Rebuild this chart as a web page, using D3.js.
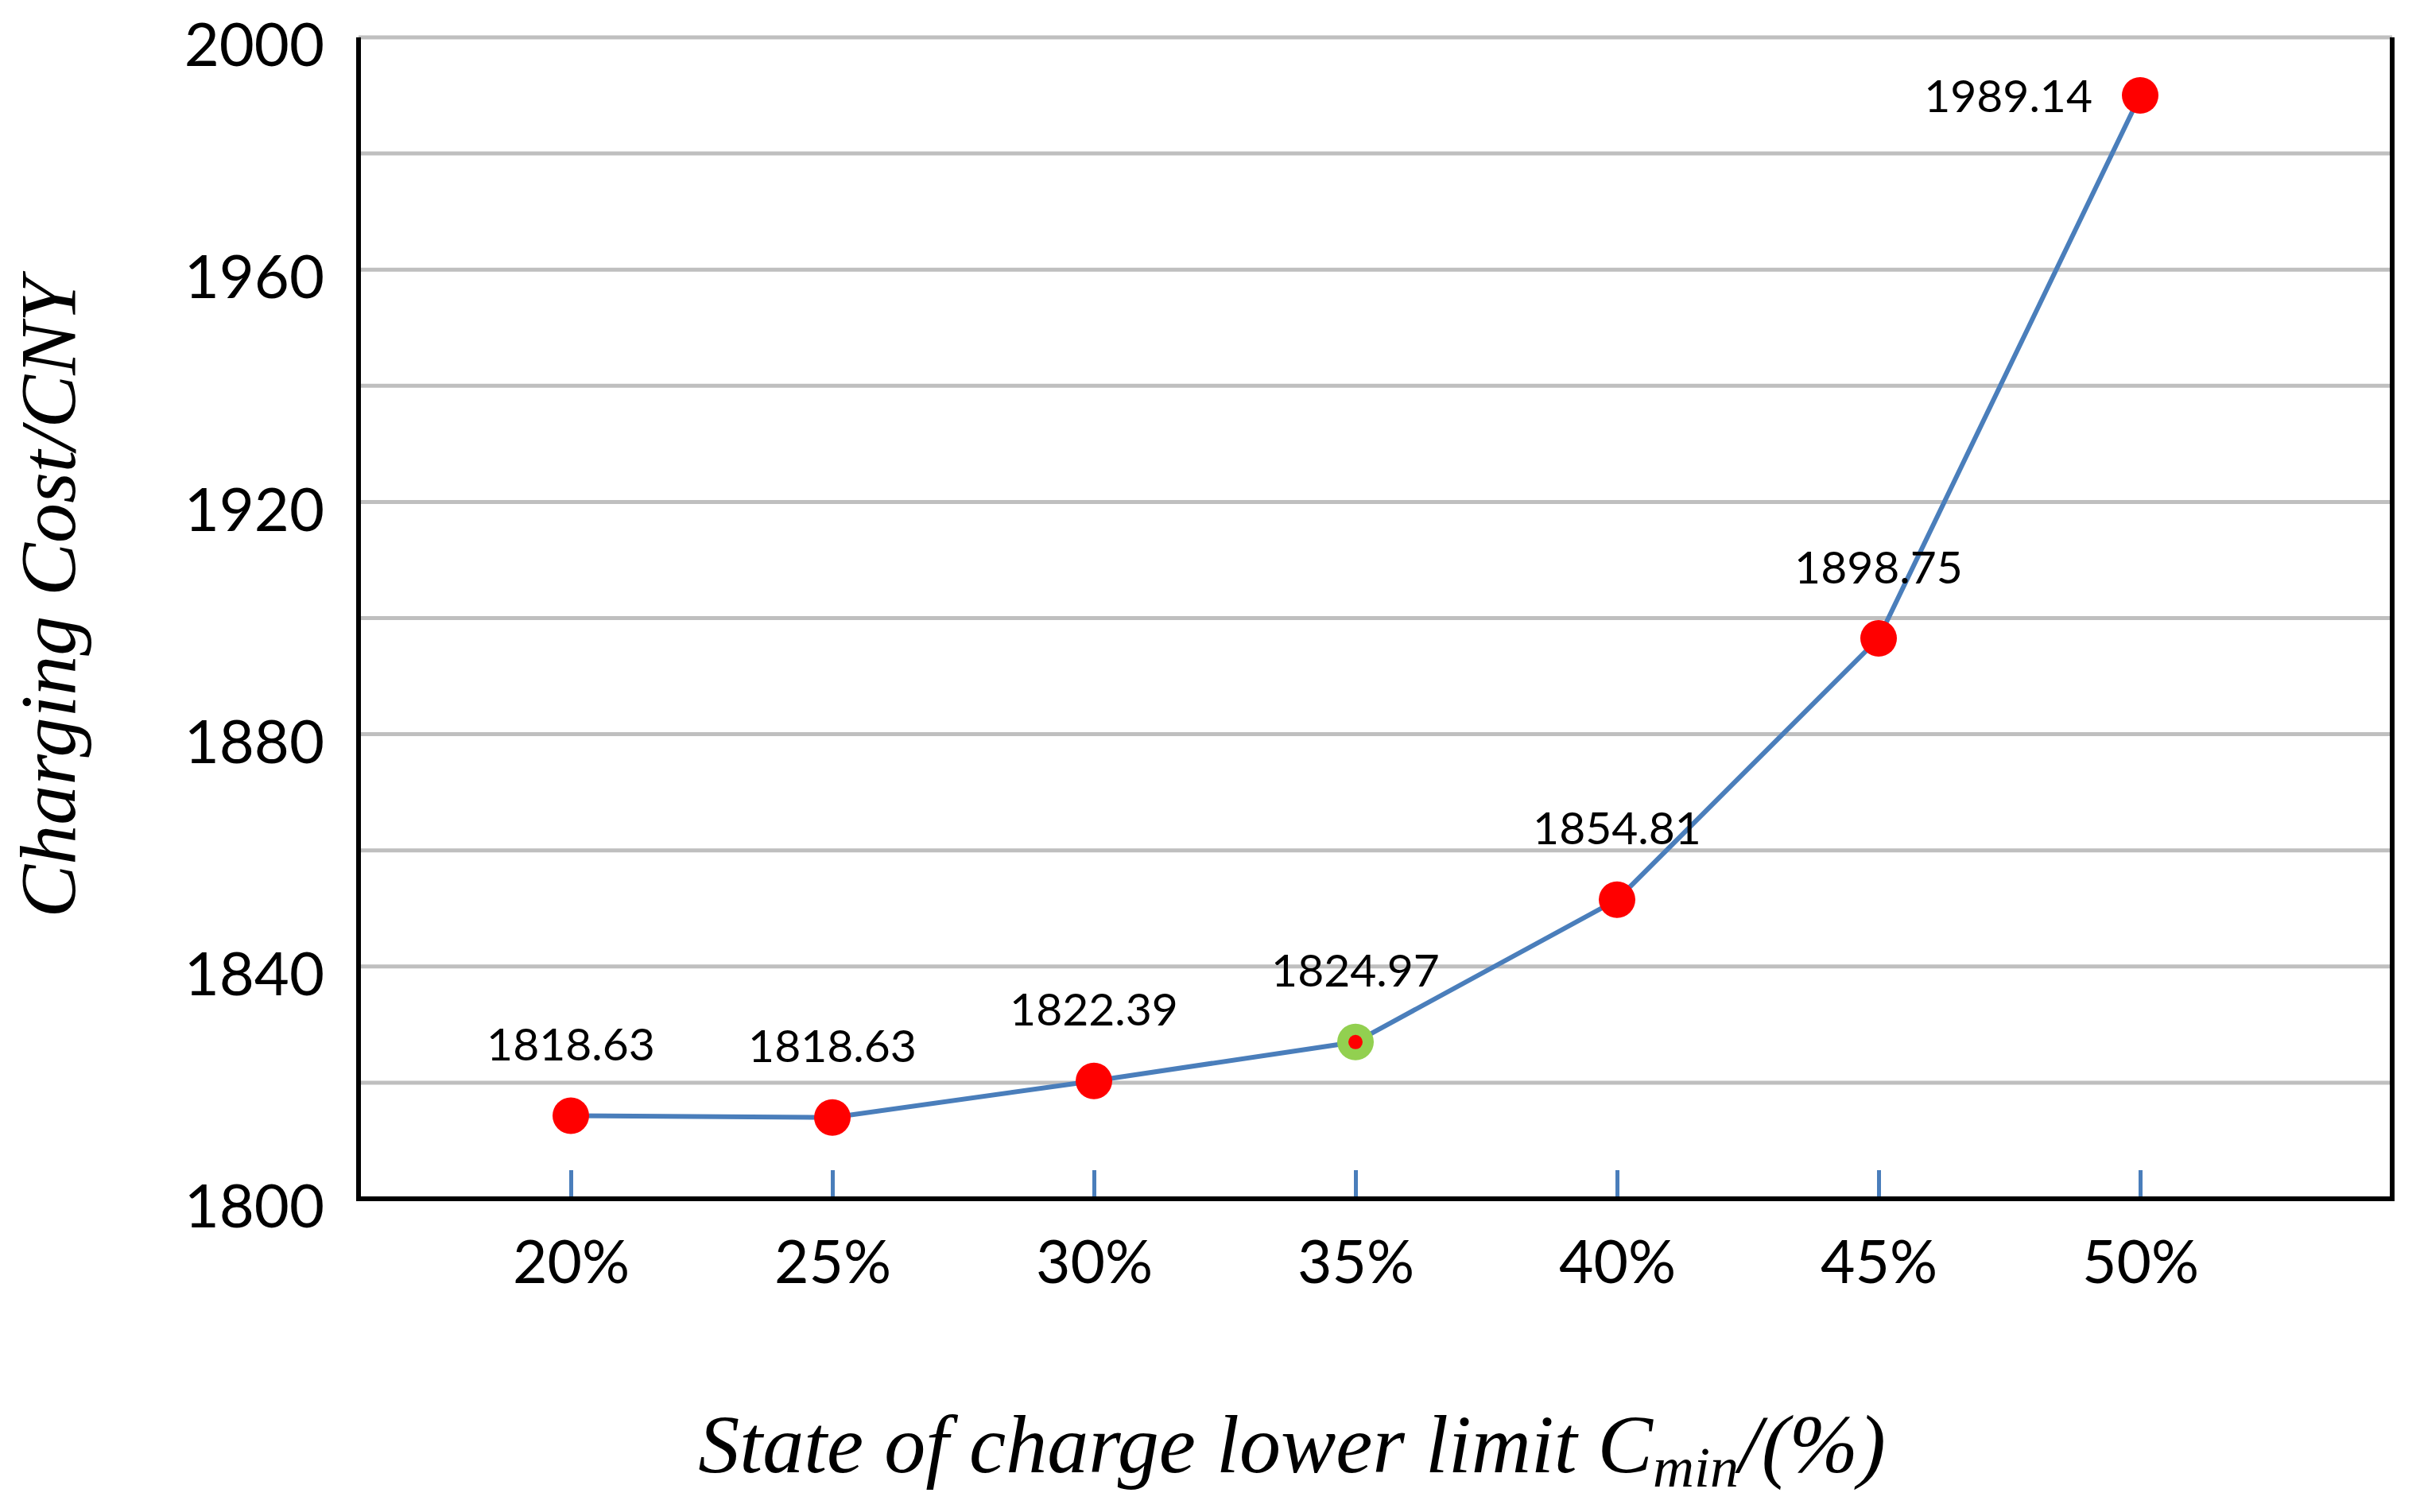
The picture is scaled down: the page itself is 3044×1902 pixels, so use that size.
<!DOCTYPE html>
<html>
<head>
<meta charset="utf-8">
<script src="https://cdn.jsdelivr.net/npm/d3@7"></script>
<style>
body { margin: 0; background: #fff; }
</style>
</head>
<body>
<svg id="chart" width="3044" height="1902"></svg>
<script>
var categories = ["20%", "25%", "30%", "35%", "40%", "45%", "50%"];
// point heights as drawn in the figure, and the texts printed next to them
var costs = [1814.3, 1814.0, 1820.3, 1827.0, 1851.5, 1896.5, 1990.0];
var costLabels = ["1818.63", "1818.63", "1822.39", "1824.97", "1854.81", "1898.75", "1989.14"];
var yTicks = [1800, 1840, 1880, 1920, 1960, 2000];
var yGrid = [1820, 1840, 1860, 1880, 1900, 1920, 1940, 1960, 1980, 2000];
var bestIndex = 3;

function drawChart() {
    var svg = d3.select("#chart");
    var plot = {left: 451, right: 3009, top: 47, bottom: 1508};
    var tickFont = "Lato, 'Open Sans', sans-serif";
    var titleFont = "'Liberation Serif', 'DejaVu Serif', serif";

    var yScale = d3.scaleLinear()
        .domain([1800, 2000])
        .range([plot.bottom, plot.top]);
    var xScale = d3.scalePoint()
        .domain(categories)
        .range([plot.left + 267, plot.right - 317]);

    // grid
    svg.append("g").selectAll("line").data(yGrid).enter()
        .append("line")
        .attr("x1", plot.left)
        .attr("x2", plot.right)
        .attr("y1", (d) => {return yScale(d)})
        .attr("y2", (d) => {return yScale(d)})
        .attr("stroke", "#bfbfbf")
        .attr("stroke-width", 5);

    // y axis
    var yAxis = svg.append("g")
        .attr("transform", "translate(" + plot.left + ",0)")
        .call(d3.axisLeft(yScale).tickValues(yTicks).tickFormat(d3.format("d")).tickSize(0).tickPadding(43));
    yAxis.select(".domain").remove();
    yAxis.selectAll("text")
        .attr("font-family", tickFont)
        .attr("font-size", 76)
        .attr("fill", "#000")
        .attr("dy", "0.47em");

    // x axis with short blue ticks inside the plot
    var xAxis = svg.append("g")
        .attr("transform", "translate(0," + plot.bottom + ")")
        .call(d3.axisBottom(xScale).tickSizeInner(-36).tickSizeOuter(0).tickPadding(53));
    xAxis.select(".domain").remove();
    xAxis.selectAll("line")
        .attr("stroke", "#4a7ebb")
        .attr("stroke-width", 5);
    xAxis.selectAll("text")
        .attr("font-family", tickFont)
        .attr("font-size", 75)
        .attr("fill", "#000");

    // frame: left, right, bottom in black
    var frame = svg.append("g")
        .attr("stroke", "#000")
        .attr("stroke-width", 6)
        .attr("stroke-linecap", "square");
    frame.append("line")
        .attr("x1", plot.left).attr("x2", plot.left)
        .attr("y1", plot.top + 3).attr("y2", plot.bottom);
    frame.append("line")
        .attr("x1", plot.right).attr("x2", plot.right)
        .attr("y1", plot.top + 3).attr("y2", plot.bottom);
    frame.append("line")
        .attr("x1", plot.left).attr("x2", plot.right)
        .attr("y1", plot.bottom).attr("y2", plot.bottom);

    // series line
    var line = d3.line()
        .x((d, i) => {return xScale(categories[i])})
        .y((d) => {return yScale(d)});
    svg.append("path")
        .datum(costs)
        .attr("d", line)
        .attr("fill", "none")
        .attr("stroke", "#4a7ebb")
        .attr("stroke-width", 6);

    // markers
    svg.append("g").selectAll("circle").data(costs).enter()
        .append("circle")
        .attr("cx", (d, i) => {return xScale(categories[i])})
        .attr("cy", (d) => {return yScale(d)})
        .attr("r", 23)
        .attr("fill", (d, i) => {return i === bestIndex ? "#92d050" : "#ff0000"});
    svg.append("circle")
        .attr("cx", xScale(categories[bestIndex]))
        .attr("cy", yScale(costs[bestIndex]))
        .attr("r", 9)
        .attr("fill", "#ff0000");

    // data labels
    var last = costs.length - 1;
    svg.append("g").selectAll("text").data(costLabels).enter()
        .append("text")
        .attr("x", (d, i) => {return i === last ? xScale(categories[i]) - 60 : xScale(categories[i])})
        .attr("y", (d, i) => {return i === last ? yScale(costs[i]) : yScale(costs[i]) - 90})
        .attr("dy", "0.36em")
        .attr("text-anchor", (d, i) => {return i === last ? "end" : "middle"})
        .attr("font-family", tickFont)
        .attr("font-size", 57)
        .attr("fill", "#000")
        .text((d) => {return d});

    // axis titles
    svg.append("text")
        .attr("transform", "translate(94,752) rotate(-90)")
        .attr("text-anchor", "middle")
        .attr("font-family", titleFont)
        .attr("font-style", "italic")
        .attr("font-size", 100)
        .text("Charging Cost/CNY");

    var xTitle = svg.append("text")
        .attr("x", 1625)
        .attr("y", 1852)
        .attr("text-anchor", "middle")
        .attr("font-family", titleFont)
        .attr("font-style", "italic")
        .attr("font-size", 104);
    xTitle.append("tspan").text("State of charge lower limit C");
    xTitle.append("tspan").attr("font-size", 72).attr("dy", 18).text("min");
    xTitle.append("tspan").attr("dy", -18).text("/(%)");
}

drawChart();
</script>
</body>
</html>
